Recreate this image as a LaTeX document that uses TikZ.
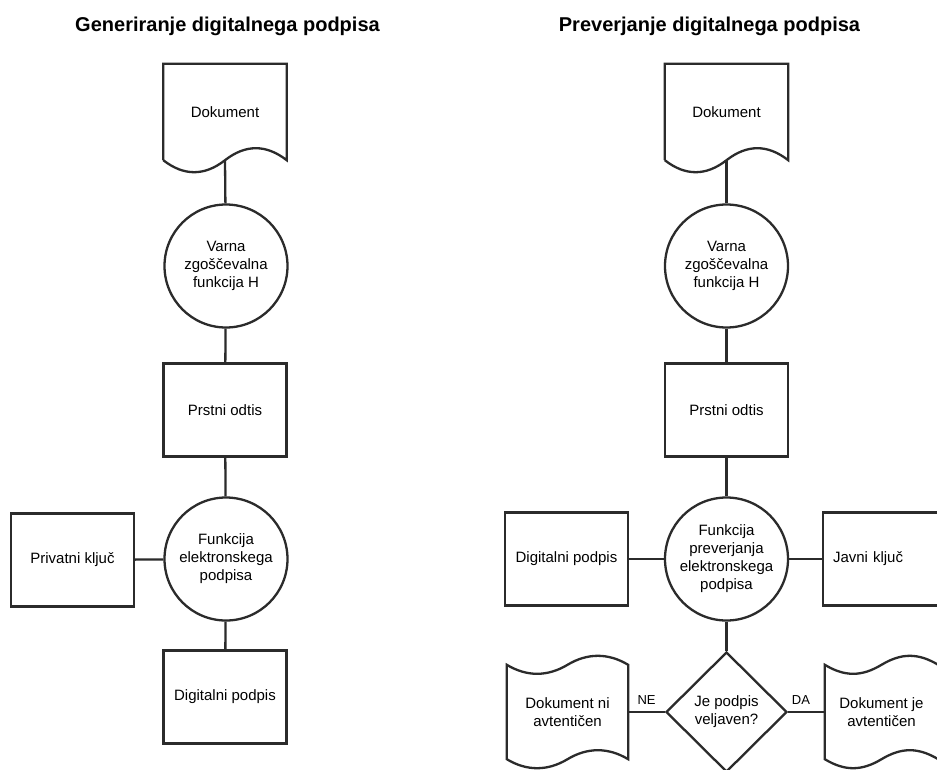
\documentclass[tikz,border=0pt]{standalone}
\usepackage{fontspec}
\setmainfont{Liberation Sans}
\usetikzlibrary{shapes.geometric}
\definecolor{obris}{HTML}{2B2B2B}

\begin{document}
\begin{tikzpicture}[
        x=1pt, y=-1pt,
        every node/.style={font=\fontsize{15}{18}\selectfont, align=center, inner sep=0pt},
        naslov/.style={font=\fontsize{20}{24}\selectfont\bfseries, anchor=base},
        blok/.style={rectangle, draw=obris, line width=2.3pt, minimum width=123pt, minimum height=93pt},
        krog/.style={circle, draw=obris, line width=2.3pt, minimum size=123pt},
        odlocitev/.style={diamond, draw=obris, line width=2.3pt, aspect=1, minimum width=121pt, minimum height=120pt},
        dokument/.style={rectangle, minimum width=123pt, minimum height=96pt,
            append after command={\pgfextra{\let\ta\tikzlastnode
                \draw[obris, line width=2.3pt] (\ta.south west) -- (\ta.north west) -- (\ta.north east) -- (\ta.south east)
                    .. controls +(-20.5,-16) and +(20.5,-16) .. (\ta.south)
                    .. controls +(-20.5,16) and +(20.5,16) .. (\ta.south west);}}},
        trak/.style={rectangle, minimum width=121pt, minimum height=94pt,
            append after command={\pgfextra{\let\ta\tikzlastnode
                \draw[obris, line width=2.3pt] (\ta.north west)
                    .. controls +(20,12) and +(-20,12) .. (\ta.north)
                    .. controls +(20,-12) and +(-20,-12) .. (\ta.north east) -- (\ta.south east)
                    .. controls +(-20,-12) and +(20,-12) .. (\ta.south)
                    .. controls +(-20,12) and +(20,12) .. (\ta.south west) -- cycle;}}},
        povezava/.style={draw=obris, line width=2.3pt},
        oznaka/.style={font=\fontsize{13}{15}\selectfont, above=6pt}
    ]
    \useasboundingbox[fill=white] (0,0) rectangle (937,769);
    \clip (0,0) rectangle (937,769);

    % generiranje
    \node[naslov] (naslovL) at (227.5,31.5) {Generiranje digitalnega podpisa};
    \node[dokument] (dokL) at (225,112) {Dokument};
    \node[krog] (hashL) at (226,266) {Varna\\zgoščevalna\\funkcija H};
    \node[blok] (odtisL) at (225,410) {Prstni odtis};
    \node[krog] (podpisL) at (226,559) {Funkcija\\elektronskega\\podpisa};
    \node[blok] (kljucL) at (72.5,560) {Privatni ključ};
    \node[blok] (digL) at (225,697) {Digitalni podpis};

    \draw[povezava] (dokL.south) -- (hashL);
    \draw[povezava] (hashL) -- (odtisL);
    \draw[povezava] (odtisL) -- (podpisL);
    \draw[povezava] (kljucL) -- (podpisL);
    \draw[povezava] (podpisL) -- (digL);

    % preverjanje
    \node[naslov] (naslovD) at (709.5,31.5) {Preverjanje digitalnega podpisa};
    \node[dokument] (dokD) at (726.5,112) {Dokument};
    \node[krog] (hashD) at (726.5,266) {Varna\\zgoščevalna\\funkcija H};
    \node[blok] (odtisD) at (726.5,410) {Prstni odtis};
    \node[krog] (prevD) at (726.5,559) {Funkcija\\preverjanja\\elektronskega\\podpisa};
    \node[blok] (digD) at (566.5,559) {Digitalni podpis};
    \node[blok, align=left, text width=103pt, inner xsep=10pt] (kljucD) at (884.5,559) {Javni ključ};
    \node[odlocitev] (veljaven) at (726.5,712) {Je podpis\\veljaven?};
    \node[trak] (neD) at (567.5,712) {Dokument ni\\avtentičen};
    \node[trak, minimum width=113pt] (daD) at (881.5,712) {Dokument je\\avtentičen};

    \draw[povezava] (dokD.south) -- (hashD);
    \draw[povezava] (hashD) -- (odtisD);
    \draw[povezava] (odtisD) -- (prevD);
    \draw[povezava] (digD) -- (prevD);
    \draw[povezava] (prevD) -- (kljucD);
    \draw[povezava] (prevD) -- (veljaven);
    \draw[povezava] (veljaven) -- node[oznaka, midway] {NE} (neD);
    \draw[povezava] (veljaven) -- node[oznaka, pos=0.35] {DA} (daD);
\end{tikzpicture}
\end{document}
